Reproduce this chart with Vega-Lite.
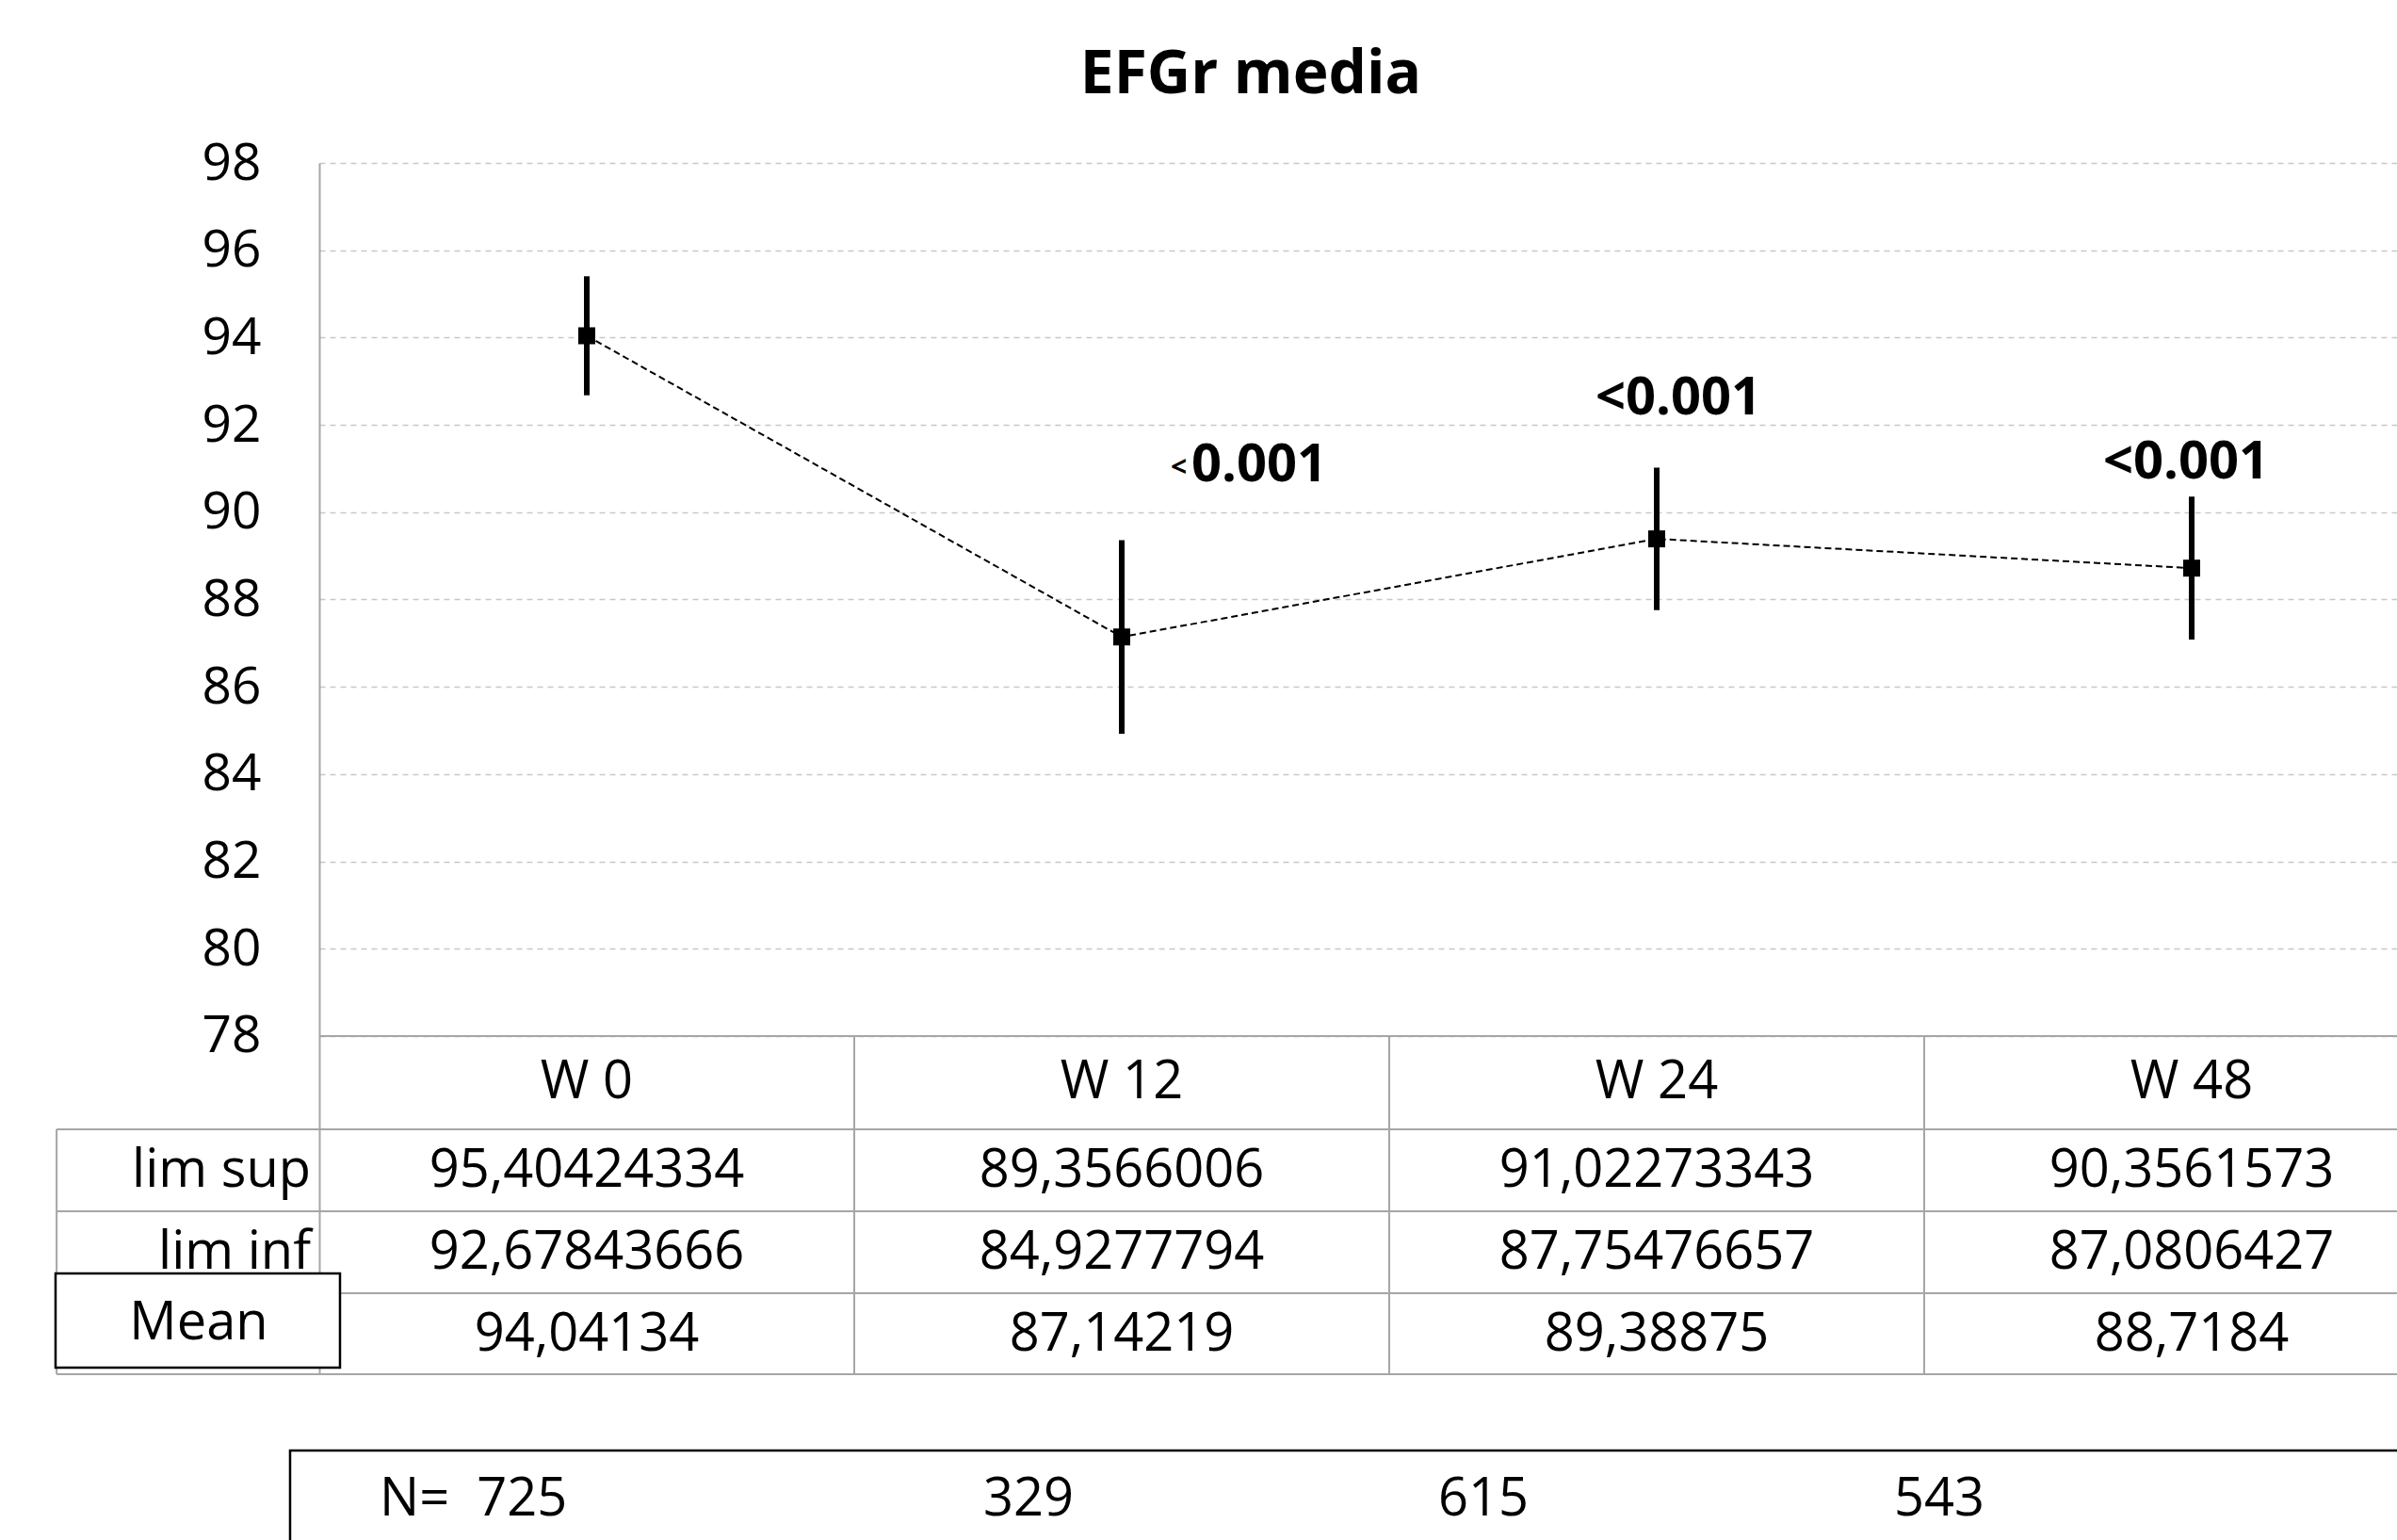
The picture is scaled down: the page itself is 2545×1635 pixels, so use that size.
{
  "$schema": "https://vega.github.io/schema/vega-lite/v6.json",
  "autosize": {"type": "none"},
  "padding": {"left": 339, "top": 173, "right": 0, "bottom": 176},
  "width": 2206,
  "height": 1286,
  "background": "white",
  "title": {"text": "EFGr media", "font": "Open Sans", "fontSize": 64, "fontWeight": "bold", "color": "black", "anchor": "middle", "dx": -114, "baseline": "alphabetic", "offset": -17},
  "config": {
    "view": {"stroke": null},
    "locale": {"number": {"decimal": ",", "thousands": ".", "grouping": [3], "currency": ["", "€"]}},
    "text": {"font": "Open Sans", "fontSize": 56, "color": "black", "baseline": "alphabetic"}
  },
  "datasets": {
    "points": [
      {"week": "W 0", "idx": 0, "mean": 94.04134, "lim_sup": 95.40424334, "lim_inf": 92.67843666},
      {"week": "W 12", "idx": 1, "mean": 87.14219, "lim_sup": 89.3566006, "lim_inf": 84.9277794},
      {"week": "W 24", "idx": 2, "mean": 89.38875, "lim_sup": 91.02273343, "lim_inf": 87.75476657},
      {"week": "W 48", "idx": 3, "mean": 88.7184, "lim_sup": 90.3561573, "lim_inf": 87.0806427}
    ],
    "nrow": [
      {"label": "N=\u00a0\u00a0725", "xpos": -0.3873},
      {"label": "329", "xpos": 0.7412},
      {"label": "615", "xpos": 1.5915},
      {"label": "543", "xpos": 2.4437}
    ],
    "pvals": [
      {"label": "0.001", "xpos": 1.1303, "ypos": 90.71},
      {"label": "<0.001", "xpos": 1.8856, "ypos": 92.24},
      {"label": "<0.001", "xpos": 2.8345, "ypos": 90.77}
    ],
    "pvals_small": [
      {"label": "<", "xpos": 1.0915, "ypos": 90.82}
    ]
  },
  "data": {"name": "points"},
  "layer": [
    {
      "mark": {"type": "line", "color": "black", "strokeWidth": 2, "strokeDash": [7, 4]},
      "encoding": {
        "x": {"field": "idx", "type": "quantitative", "scale": {"domain": [-0.5, 3.3838], "nice": false, "zero": false}, "axis": null},
        "y": {"field": "mean", "type": "quantitative", "scale": {"domain": [70.254, 98], "nice": false, "zero": false},
          "axis": {"values": [78, 80, 82, 84, 86, 88, 90, 92, 94, 96, 98], "title": null, "grid": true, "gridColor": "#c8c8c8", "gridDash": [6, 5], "gridWidth": 1.5, "ticks": false, "tickSize": 0, "domain": true, "domainColor": "#a6a6a6", "domainWidth": 2, "labelFont": "Open Sans", "labelFontSize": 55, "labelColor": "black", "labelPadding": 62}}
      }
    },
    {
      "mark": {"type": "rule", "color": "black", "strokeWidth": 6},
      "encoding": {
        "x": {"field": "idx", "type": "quantitative"},
        "y": {"field": "lim_inf", "type": "quantitative"},
        "y2": {"field": "lim_sup"}
      }
    },
    {
      "mark": {"type": "point", "shape": "square", "filled": true, "size": 324, "color": "black", "opacity": 1},
      "encoding": {
        "x": {"field": "idx", "type": "quantitative"},
        "y": {"field": "mean", "type": "quantitative"}
      }
    },
    {
      "data": {"values": [{}]},
      "mark": {"type": "rule", "color": "#a6a6a6", "strokeWidth": 2},
      "encoding": {"x": {"datum": -0.5}, "x2": {"datum": 3.3838}, "y": {"datum": 78}}
    },
    {
      "data": {"values": [{}]},
      "mark": {"type": "rule", "color": "#a6a6a6", "strokeWidth": 2},
      "encoding": {"x": {"datum": -0.991}, "x2": {"datum": 3.3838}, "y": {"datum": 75.864}}
    },
    {
      "data": {"values": [{}]},
      "mark": {"type": "rule", "color": "#a6a6a6", "strokeWidth": 2},
      "encoding": {"x": {"datum": -0.991}, "x2": {"datum": 3.3838}, "y": {"datum": 73.987}}
    },
    {
      "data": {"values": [{}]},
      "mark": {"type": "rule", "color": "#a6a6a6", "strokeWidth": 2},
      "encoding": {"x": {"datum": -0.991}, "x2": {"datum": 3.3838}, "y": {"datum": 72.11}}
    },
    {
      "data": {"values": [{}]},
      "mark": {"type": "rule", "color": "#a6a6a6", "strokeWidth": 2},
      "encoding": {"x": {"datum": -0.991}, "x2": {"datum": 3.3838}, "y": {"datum": 70.254}}
    },
    {
      "data": {"values": [{}]},
      "mark": {"type": "rule", "color": "#a6a6a6", "strokeWidth": 2},
      "encoding": {"x": {"datum": -0.991}, "y": {"datum": 75.864}, "y2": {"datum": 70.254}}
    },
    {
      "data": {"values": [{}]},
      "mark": {"type": "rule", "color": "#a6a6a6", "strokeWidth": 2},
      "encoding": {"x": {"datum": 0.5}, "y": {"datum": 78}, "y2": {"datum": 70.254}}
    },
    {
      "data": {"values": [{}]},
      "mark": {"type": "rule", "color": "#a6a6a6", "strokeWidth": 2},
      "encoding": {"x": {"datum": 1.5}, "y": {"datum": 78}, "y2": {"datum": 70.254}}
    },
    {
      "data": {"values": [{}]},
      "mark": {"type": "rule", "color": "#a6a6a6", "strokeWidth": 2},
      "encoding": {"x": {"datum": 2.5}, "y": {"datum": 78}, "y2": {"datum": 70.254}}
    },
    {
      "mark": {"type": "text", "align": "center"},
      "encoding": {"x": {"field": "idx", "type": "quantitative"}, "y": {"datum": 76.576}, "text": {"field": "week"}}
    },
    {
      "mark": {"type": "text", "align": "center"},
      "encoding": {"x": {"field": "idx", "type": "quantitative"}, "y": {"datum": 74.55}, "text": {"field": "lim_sup", "type": "quantitative", "format": ".10~g"}}
    },
    {
      "mark": {"type": "text", "align": "center"},
      "encoding": {"x": {"field": "idx", "type": "quantitative"}, "y": {"datum": 72.67}, "text": {"field": "lim_inf", "type": "quantitative", "format": ".10~g"}}
    },
    {
      "mark": {"type": "text", "align": "center"},
      "encoding": {"x": {"field": "idx", "type": "quantitative"}, "y": {"datum": 70.794}, "text": {"field": "mean", "type": "quantitative", "format": ".10~g"}}
    },
    {
      "data": {"values": [{}]},
      "mark": {"type": "text", "align": "right"},
      "encoding": {"x": {"datum": -0.5158}, "y": {"datum": 74.55}, "text": {"value": "lim sup"}}
    },
    {
      "data": {"values": [{}]},
      "mark": {"type": "text", "align": "right"},
      "encoding": {"x": {"datum": -0.5158}, "y": {"datum": 72.67}, "text": {"value": "lim inf"}}
    },
    {
      "data": {"values": [{}]},
      "mark": {"type": "rect", "fill": "white", "stroke": "black", "strokeWidth": 2.5},
      "encoding": {"x": {"datum": -0.993}, "x2": {"datum": -0.4613}, "y": {"datum": 72.563}, "y2": {"datum": 70.406}}
    },
    {
      "data": {"values": [{}]},
      "mark": {"type": "text", "align": "center"},
      "encoding": {"x": {"datum": -0.7254}, "y": {"datum": 71.053}, "text": {"value": "Mean"}}
    },
    {
      "data": {"values": [{}]},
      "mark": {"type": "rect", "fill": "white", "stroke": "black", "strokeWidth": 2.5},
      "encoding": {"x": {"datum": -0.5546}, "x2": {"datum": 3.6}, "y": {"datum": 68.507}, "y2": {"datum": 60}}
    },
    {
      "data": {"name": "nrow"},
      "mark": {"type": "text", "align": "left"},
      "encoding": {"x": {"field": "xpos", "type": "quantitative"}, "y": {"datum": 67.018}, "text": {"field": "label"}}
    },
    {
      "data": {"name": "pvals"},
      "mark": {"type": "text", "align": "left", "fontWeight": "bold", "fontSize": 56},
      "encoding": {"x": {"field": "xpos", "type": "quantitative"}, "y": {"field": "ypos", "type": "quantitative"}, "text": {"field": "label"}}
    },
    {
      "data": {"name": "pvals_small"},
      "mark": {"type": "text", "align": "left", "fontWeight": "bold", "fontSize": 30},
      "encoding": {"x": {"field": "xpos", "type": "quantitative"}, "y": {"field": "ypos", "type": "quantitative"}, "text": {"field": "label"}}
    }
  ]
}
